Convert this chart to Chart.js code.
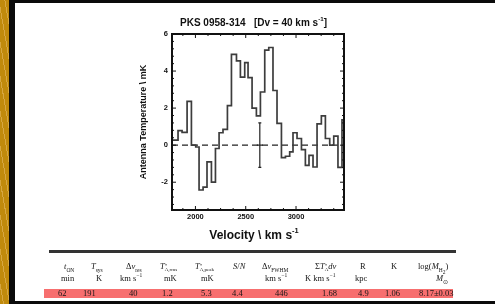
<!DOCTYPE html>
<html>
<head>
<meta charset="utf-8">
<script src="https://cdn.jsdelivr.net/npm/chart.js@4/dist/chart.umd.min.js"></script>
<style>
html, body { margin: 0; padding: 0; background: #fff; }
#page { position: relative; width: 495px; height: 304px; overflow: hidden; background: #fff; }
#gold { position: absolute; left: 0; top: 0; width: 9px; height: 304px;
  background: repeating-linear-gradient(80deg, #c08a0c 0 3px, #d6a640 3px 4px, #c08a0c 4px 6px); }
#blk { position: absolute; left: 9px; top: 0; width: 6px; height: 304px; background: #0b0b0b; }
#topband { position: absolute; left: 9px; top: 0; width: 486px; height: 2.5px; background: #0b0b0b; }
#botband { position: absolute; left: 9px; top: 301px; width: 486px; height: 3px; background: #0b0b0b; }
#c { position: absolute; left: 0; top: 0; }
#rule { position: absolute; left: 49px; top: 250px; width: 407px; height: 3px; background: #333; }
#band { position: absolute; left: 44px; top: 289px; width: 409px; height: 8.5px; background: #f76f6f; }
.cell { position: absolute; font-family: "Liberation Serif", "Times New Roman", serif; font-size: 8.5px;
  line-height: 9px; color: #151515; white-space: nowrap; text-align: right;
  transform: translateZ(0); will-change: transform; -webkit-font-smoothing: antialiased; }
.cell sub, .cell sup { font-size: 5.5px; line-height: 0; }
.ss { display: inline-block; vertical-align: -2px; font-size: 5px; line-height: 4px; text-align: left; }
.ss span { display: block; }
</style>
</head>
<body>
<div id="page">
  <div id="gold"></div>
  <div id="blk"></div>
  <div id="topband"></div>
  <div id="botband"></div>
  <canvas id="c" width="495" height="250"></canvas>
  <div id="rule"></div>
  <div id="band"></div>
</div>
<script>
// spectrum, 40 km/s channels (left edges + final right edge)
const velEdges = [1767, 1827, 1867, 1917, 1960, 2003, 2036, 2076, 2115, 2159, 2199, 2235, 2274, 2318,
  2358, 2408, 2447, 2490, 2523, 2563, 2606, 2646, 2689, 2729, 2771, 2811, 2855, 2895, 2937, 2970,
  3010, 3054, 3093, 3129, 3169, 3209, 3252, 3292, 3335, 3375, 3417, 3457, 3477];
const tempMk = [0.27, 0.78, 0.69, 2.36, 0.0, -0.1, -2.42, -2.27, -0.9, -2.0, -0.18, 0.67, 0.85, 2.13,
  4.9, 4.55, 3.67, 4.45, 3.64, 2.0, 1.58, 2.87, 5.13, 5.27, 2.95, 1.18, -0.67, -0.6, -0.36, 0.67,
  0.36, -0.24, -1.09, -0.55, -1.18, 1.15, 1.58, 0.36, 0.0, 0.49, -1.2, 1.36];

const xRange = [1767, 3477];
const yRange = [-3.5, 6];
const xMajorTicks = [2000, 2500, 3000];
const yMajorTicks = [-2, 0, 2, 4, 6];
const xMinorStep = 125;
const yMinorStep = 0.4;

const errVel = 2640;
const errRms = 1.2;

const titleText = ['PKS 0958-314   [Dv = 40 km s', '-1', ']'];
const xTitleText = ['Velocity \\ km s', '-1', ''];
const yTitleText = 'Antenna Temperature \\ mK';

// table below the plot
const tableHeads = ['<i>t</i><sub>ON</sub>', '<i>T</i><sub>sys</sub>', '&Delta;<i>v</i><sub>res</sub>',
  '<i>T</i><span class="ss"><span>*</span><span>A,rms</span></span>',
  '<i>T</i><span class="ss"><span>*</span><span>A,peak</span></span>',
  '<i>S</i>/<i>N</i>', '&Delta;<i>v</i><sub>FWHM</sub>',
  '&Sigma;<i>T</i><span class="ss"><span>*</span><span>A</span></span><i>dv</i>',
  'R', 'K', 'log(<i>M</i><sub>H<sub>2</sub></sub>)'];
const tableUnits = ['min', 'K', 'km s<sup>&minus;1</sup>', 'mK', 'mK', '', 'km s<sup>&minus;1</sup>',
  'K km s<sup>&minus;1</sup>', 'kpc', '', '<i>M</i><sub>&#8857;</sub>'];
const tableValues = ['62', '191', '40', '1.2', '5.3', '4.4', '446', '1.68', '4.9', '1.06', '8.17&plusmn;0.03'];

const headRight = [74, 103, 142, 177, 214, 245, 288, 336, 366, 397, 448];
const unitRight = [74, 102, 142, 177, 214, 245, 287, 335, 367, 397, 448];
const valRight = [66, 96, 137, 173, 212, 243, 288, 337, 369, 400, 453];

const page = document.getElementById('page');
function addCell(html, right, top) {
    const d = document.createElement('div');
    d.className = 'cell';
    d.innerHTML = html;
    d.style.right = (495 - right) + 'px';
    d.style.top = top + 'px';
    page.appendChild(d);
}
for (let i = 0; i < tableHeads.length; i++) {
    addCell(tableHeads[i], headRight[i], 262);
    addCell(tableUnits[i], unitRight[i], 273.5);
    addCell(tableValues[i], valRight[i], 288.5);
}

const points = velEdges.map((v, i) => ({x: v, y: tempMk[Math.min(i, tempMk.length - 1)]}));

function drawSupText(ctx, parts, cx, cy, size) {
    const main = `bold ${size}px "Liberation Sans", Arial, sans-serif`;
    const small = `bold ${size * 0.62}px "Liberation Sans", Arial, sans-serif`;
    ctx.font = main;
    const w0 = ctx.measureText(parts[0]).width;
    const w2 = ctx.measureText(parts[2]).width;
    ctx.font = small;
    const w1 = ctx.measureText(parts[1]).width;
    let x = cx - (w0 + w1 + w2) / 2;
    ctx.textBaseline = 'middle';
    ctx.textAlign = 'left';
    ctx.font = main;
    ctx.fillText(parts[0], x, cy);
    x += w0;
    ctx.font = small;
    ctx.fillText(parts[1], x, cy - size * 0.38);
    x += w1;
    ctx.font = main;
    ctx.fillText(parts[2], x, cy);
}

const decor = {
    id: 'decor',
    beforeDatasetsDraw(chart) {
        const {ctx, chartArea: a, scales: {y}} = chart;
        const y0 = y.getPixelForValue(0);
        ctx.save();
        ctx.strokeStyle = '#222';
        ctx.lineWidth = 1.3;
        ctx.setLineDash([6, 4]);
        ctx.beginPath();
        ctx.moveTo(a.left, y0);
        ctx.lineTo(a.right, y0);
        ctx.stroke();
        ctx.restore();
    },
    afterDatasetsDraw(chart) {
        const {ctx, chartArea: a, scales: {x, y}} = chart;
        ctx.save();
        // error bar
        const ex = x.getPixelForValue(errVel);
        const eTop = y.getPixelForValue(errRms);
        const eBot = y.getPixelForValue(-errRms);
        const eMid = y.getPixelForValue(0);
        ctx.strokeStyle = '#222';
        ctx.lineWidth = 1.2;
        ctx.beginPath();
        ctx.moveTo(ex, eTop); ctx.lineTo(ex, eBot);
        ctx.moveTo(ex - 1.5, eTop); ctx.lineTo(ex + 1.5, eTop);
        ctx.moveTo(ex - 1.5, eBot); ctx.lineTo(ex + 1.5, eBot);
        ctx.moveTo(ex - 3, eMid); ctx.lineTo(ex + 3, eMid);
        ctx.stroke();

        // inward ticks on all four sides
        ctx.strokeStyle = '#111';
        ctx.lineWidth = 1;
        ctx.beginPath();
        for (let v = Math.ceil(xRange[0] / xMinorStep) * xMinorStep; v <= xRange[1]; v += xMinorStep) {
            const px = x.getPixelForValue(v);
            const len = xMajorTicks.includes(v) ? 4 : 2;
            ctx.moveTo(px, a.bottom); ctx.lineTo(px, a.bottom - len);
            ctx.moveTo(px, a.top); ctx.lineTo(px, a.top + len);
        }
        for (let k = Math.ceil(yRange[0] / yMinorStep); k * yMinorStep <= yRange[1] + 1e-9; k++) {
            const v = +(k * yMinorStep).toFixed(2);
            const py = y.getPixelForValue(v);
            const len = yMajorTicks.includes(v) ? 4 : 2;
            ctx.moveTo(a.left, py); ctx.lineTo(a.left + len, py);
            ctx.moveTo(a.right, py); ctx.lineTo(a.right - len, py);
        }
        ctx.stroke();

        // box
        ctx.lineWidth = 2;
        ctx.strokeStyle = '#111';
        ctx.strokeRect(a.left, a.top, a.right - a.left, a.bottom - a.top);

        // titles
        ctx.fillStyle = '#111';
        drawSupText(ctx, titleText, 253.5, 23.3, 10);
        drawSupText(ctx, xTitleText, 254, 236, 12);
        ctx.restore();
    }
};

const tickFont = {family: '"Liberation Sans", Arial, sans-serif', weight: 'bold', size: 7.5};

new Chart(document.getElementById('c'), {
    type: 'line',
    data: {
        datasets: [{
            data: points,
            stepped: 'before',
            borderColor: '#3d3d3d',
            borderWidth: 1.7,
            pointRadius: 0,
            fill: false
        }]
    },
    options: {
        responsive: false,
        animation: false,
        events: [],
        layout: {padding: {left: 130, right: 151, top: 34, bottom: 0}},
        plugins: {legend: {display: false}, title: {display: false}, tooltip: {enabled: false}},
        scales: {
            x: {
                type: 'linear',
                min: xRange[0],
                max: xRange[1],
                grid: {display: false, drawTicks: false},
                border: {display: false},
                afterBuildTicks: (s) => { s.ticks = xMajorTicks.map(v => ({value: v})); },
                afterFit: (s) => { s.height = 40; },
                ticks: {font: tickFont, color: '#111', padding: 2, maxRotation: 0, autoSkip: false,
                    callback: (v) => String(v)}
            },
            y: {
                type: 'linear',
                min: yRange[0],
                max: yRange[1],
                grid: {display: false, drawTicks: false},
                border: {display: false},
                afterBuildTicks: (s) => { s.ticks = yMajorTicks.map(v => ({value: v})); },
                afterFit: (s) => { s.width = 42; },
                ticks: {font: tickFont, color: '#111', padding: 4, autoSkip: false,
                    callback: (v) => String(v)},
                title: {display: true, text: yTitleText, color: '#111',
                    font: {family: '"Liberation Sans", Arial, sans-serif', weight: 'bold', size: 9},
                    padding: {top: 8.6, bottom: 0}}
            }
        }
    },
    plugins: [decor]
});
</script>
</body>
</html>
